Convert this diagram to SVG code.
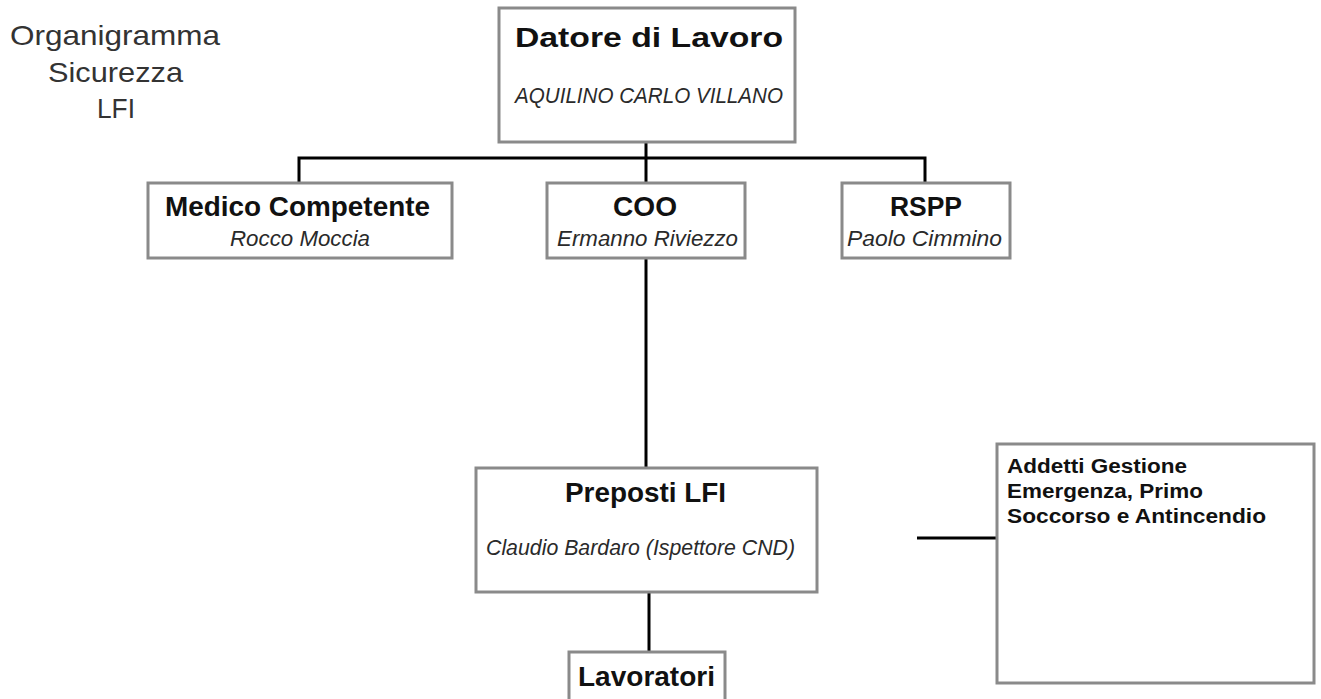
<svg xmlns="http://www.w3.org/2000/svg" width="1321" height="699" viewBox="0 0 1321 699">
  <style>
    .box { fill: #ffffff; stroke: #8a8a8a; stroke-width: 3; }
    .link { fill: none; stroke: #000000; stroke-width: 3; stroke-linecap: butt; stroke-linejoin: miter; }
    .title { font-family: "Liberation Sans", Arial, sans-serif; font-weight: bold; font-size: 27px; fill: #111111; text-anchor: middle; }
    .sub { font-family: "Liberation Sans", Arial, sans-serif; font-style: italic; font-size: 22px; fill: #2a2a2a; text-anchor: middle; }
    .heading { font-family: "Liberation Sans", Arial, sans-serif; font-size: 28px; fill: #333333; text-anchor: middle; }
    .note { font-family: "Liberation Sans", Arial, sans-serif; font-weight: bold; font-size: 20px; fill: #111111; }
  </style>
  <rect width="1321" height="699" fill="#ffffff"/>

  <!-- heading at top left -->
  <g id="heading">
    <text class="heading" x="115" y="45" textLength="210" lengthAdjust="spacingAndGlyphs">Organigramma</text>
    <text class="heading" x="115.5" y="82" textLength="135" lengthAdjust="spacingAndGlyphs">Sicurezza</text>
    <text class="heading" x="116" y="118" textLength="38" lengthAdjust="spacingAndGlyphs">LFI</text>
  </g>

  <!-- connectors -->
  <g id="connectors">
    <path class="link" d="M646 142 V183"/>
    <path class="link" d="M299 183 V158 H925 V183"/>
    <path class="link" d="M646 258 V468"/>
    <path class="link" d="M649 592 V652"/>
    <path class="link" d="M917 538 H997"/>
  </g>

  <g id="datore">
    <rect class="box" x="499" y="8" width="296" height="134"/>
    <text class="title" x="649" y="47" textLength="268" lengthAdjust="spacingAndGlyphs">Datore di Lavoro</text>
    <text class="sub" x="649" y="103" font-size="20" textLength="268" lengthAdjust="spacingAndGlyphs">AQUILINO CARLO VILLANO</text>
  </g>

  <g id="medico">
    <rect class="box" x="148" y="183" width="304" height="75"/>
    <text class="title" x="297.5" y="216" textLength="265" lengthAdjust="spacingAndGlyphs">Medico Competente</text>
    <text class="sub" x="300" y="246" textLength="140" lengthAdjust="spacingAndGlyphs">Rocco Moccia</text>
  </g>

  <g id="coo">
    <rect class="box" x="547" y="183" width="198" height="75"/>
    <text class="title" x="645" y="216" textLength="64" lengthAdjust="spacingAndGlyphs">COO</text>
    <text class="sub" x="647.5" y="246" textLength="181" lengthAdjust="spacingAndGlyphs">Ermanno Riviezzo</text>
  </g>

  <g id="rspp">
    <rect class="box" x="842" y="183" width="168" height="75"/>
    <text class="title" x="926" y="216" textLength="72" lengthAdjust="spacingAndGlyphs">RSPP</text>
    <text class="sub" x="924.5" y="246" textLength="155" lengthAdjust="spacingAndGlyphs">Paolo Cimmino</text>
  </g>

  <g id="preposti">
    <rect class="box" x="476" y="468" width="341" height="124"/>
    <text class="title" x="645.5" y="502" textLength="161" lengthAdjust="spacingAndGlyphs">Preposti LFI</text>
    <text class="sub" x="640.5" y="555" font-size="20" textLength="309" lengthAdjust="spacingAndGlyphs">Claudio Bardaro (Ispettore CND)</text>
  </g>

  <g id="lavoratori">
    <rect class="box" x="569" y="652" width="156" height="52"/>
    <text class="title" x="646.5" y="686" textLength="137" lengthAdjust="spacingAndGlyphs">Lavoratori</text>
  </g>

  <g id="addetti">
    <rect class="box" x="997" y="444" width="317" height="239"/>
    <text class="note" x="1007" y="473" textLength="180" lengthAdjust="spacingAndGlyphs">Addetti Gestione</text>
    <text class="note" x="1007" y="498" textLength="196" lengthAdjust="spacingAndGlyphs">Emergenza, Primo</text>
    <text class="note" x="1007" y="523" textLength="259" lengthAdjust="spacingAndGlyphs">Soccorso e Antincendio</text>
  </g>
</svg>
